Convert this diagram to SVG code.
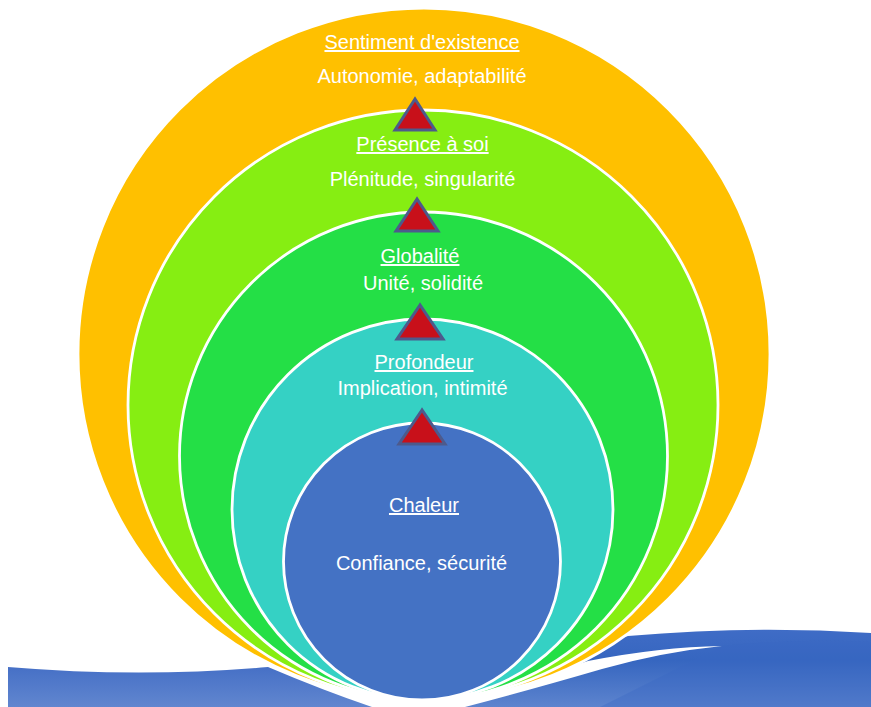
<svg xmlns="http://www.w3.org/2000/svg" width="871" height="707" viewBox="0 0 871 707">
<defs>
<linearGradient id="gl" x1="0" y1="0" x2="0" y2="1">
<stop offset="0" stop-color="#4670c6"/>
<stop offset="1" stop-color="#6186cf"/>
</linearGradient>
<linearGradient id="gr" x1="0" y1="0" x2="0" y2="1">
<stop offset="0" stop-color="#3f6cc6"/>
<stop offset="0.4" stop-color="#3666c0"/>
<stop offset="1" stop-color="#5d84ce"/>
</linearGradient>
<style>
.ring{stroke:#ffffff;stroke-width:2.8}
.t{font-family:"Liberation Sans",Arial,sans-serif;font-size:20px;fill:#ffffff;text-anchor:middle}
.u{text-decoration:underline}
.tri{fill:#c8101a;stroke:#4d5a8c;stroke-width:3;stroke-linejoin:miter}
</style>
</defs>
<rect width="871" height="707" fill="#ffffff"/>
<g id="waves">
<path d="M8,667 Q140,678 268,667 Q322,690 372,707 L8,707 Z" fill="url(#gl)"/>
<path d="M455,707 Q530,685 585,655 Q605,642 628,636 Q750,625 871,633 L871,707 Z" fill="url(#gr)"/>
<path d="M722,646 Q800,638 871,642 L871,707 L600,707 Z" fill="#3a68c2" opacity="0.35"/>
<path d="M722,646 Q662,652 602,669 Q530,690 465,707 L430,707 L430,701 Q520,684 588,661 Q660,647 722,646 Z" fill="#ffffff"/>
</g>
<g id="ring-sentiment">
<circle class="ring" cx="424" cy="354" r="346" fill="#ffc000"/>
<text class="t u" x="422" y="49">Sentiment d'existence</text>
<text class="t" x="422" y="83">Autonomie, adaptabilité</text>
</g>
<g id="ring-presence">
<circle class="ring" cx="423" cy="405" r="295" fill="#86ee12"/>
<text class="t u" x="422.5" y="151">Présence à soi</text>
<text class="t" x="422.5" y="186">Plénitude, singularité</text>
</g>
<g id="ring-globalite">
<circle class="ring" cx="423.5" cy="456" r="244" fill="#24df46"/>
<text class="t u" x="420" y="263">Globalité</text>
<text class="t" x="423" y="290">Unité, solidité</text>
</g>
<g id="ring-profondeur">
<circle class="ring" cx="422.5" cy="509.5" r="190.5" fill="#35d1c4"/>
<text class="t u" x="424" y="369">Profondeur</text>
<text class="t" x="422.5" y="395">Implication, intimité</text>
</g>
<g id="ring-chaleur">
<circle class="ring" cx="422" cy="561.5" r="138.5" fill="#4472c4"/>
<text class="t u" x="424" y="512">Chaleur</text>
<text class="t" x="421.5" y="570">Confiance, sécurité</text>
</g>
<g id="connectors">
<polygon class="tri" points="415,99 395,130 435,130"/>
<polygon class="tri" points="417,199 396,231 438,231"/>
<polygon class="tri" points="420,305 397,339 443,339"/>
<polygon class="tri" points="422,410 399,444 445,444"/>
</g>
</svg>
